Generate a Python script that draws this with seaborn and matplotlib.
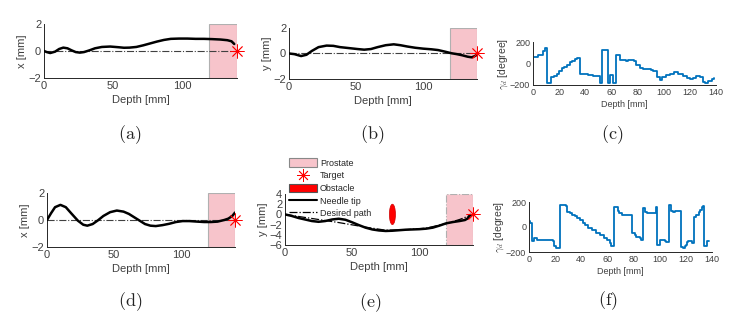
import numpy as np
import pandas as pd
import matplotlib
matplotlib.use("Agg")
import matplotlib.pyplot as plt
import seaborn as sns
from matplotlib.patches import Patch, Ellipse, Rectangle
from matplotlib.lines import Line2D

# ---------------- data ----------------
# (a) needle tip x vs depth
a_depth = [0, 2, 4.5, 8, 11, 14, 17, 20, 23, 26, 29, 33, 37, 42, 48, 54, 58, 62, 67, 72, 77, 82, 87, 92, 98, 104, 110, 116, 122, 128, 133, 136, 138]
a_x     = [0, -0.08, -0.15, -0.05, 0.15, 0.25, 0.2, 0.05, -0.08, -0.12, -0.08, 0.05, 0.2, 0.3, 0.33, 0.28, 0.24, 0.25, 0.3, 0.42, 0.56, 0.7, 0.82, 0.9, 0.92, 0.92, 0.9, 0.9, 0.88, 0.85, 0.8, 0.72, 0.52]
# (b) needle tip y vs depth
b_depth = [0, 4, 9, 13, 17, 22, 28, 33, 38, 45, 51, 56, 61, 66, 72, 78, 83, 88, 94, 100, 106, 111, 116, 121, 125, 129, 133, 136, 138, 140]
b_y     = [0, -0.05, -0.2, -0.1, 0.2, 0.5, 0.62, 0.6, 0.5, 0.42, 0.35, 0.3, 0.35, 0.5, 0.65, 0.72, 0.65, 0.55, 0.45, 0.38, 0.33, 0.27, 0.15, 0.02, -0.05, -0.14, -0.25, -0.3, -0.22, -0.1]
# (d) needle tip x vs depth
d_depth = [0, 3, 6, 10, 14, 18, 23, 27, 30, 34, 38, 42, 47, 52, 57, 61, 65, 69, 73, 77, 81, 86, 91, 96, 101, 106, 112, 117, 122, 127, 132, 135, 138, 140]
d_x     = [0, 0.5, 0.95, 1.12, 0.95, 0.5, -0.05, -0.35, -0.42, -0.3, -0.02, 0.3, 0.58, 0.7, 0.62, 0.45, 0.2, -0.05, -0.3, -0.42, -0.45, -0.38, -0.28, -0.15, -0.08, -0.08, -0.12, -0.15, -0.15, -0.12, 0.0, 0.1, 0.3, 0.55]
# (e) needle tip and desired path y vs depth
e_depth = [0, 5, 10, 15, 20, 25, 30, 35, 40, 45, 50, 55, 60, 65, 70, 75, 80, 85, 90, 95, 100, 105, 110, 115, 120, 125, 130, 134, 136, 138]
e_y     = [0, -0.3, -0.7, -1.0, -1.3, -1.45, -1.3, -1.0, -0.85, -1.05, -1.55, -2.1, -2.6, -2.95, -3.15, -3.25, -3.2, -3.1, -3.0, -2.95, -2.9, -2.8, -2.6, -2.2, -1.75, -1.5, -1.3, -1.1, -0.8, -0.1]
e_des_depth = [0, 20, 40, 60, 75, 90, 105, 120, 130, 140]
e_des_y     = [0, -0.8, -1.6, -2.5, -3.1, -3.0, -2.7, -1.8, -1.0, 0]
# (c) steering angle gamma_d (steps)
c_depth = [0, 0, 4, 8, 9, 11, 14, 16, 18, 20, 22, 24, 26, 28, 30, 32, 34, 36, 42, 46, 51, 52.7, 57.3, 59, 61, 63.4, 66.7, 71, 73, 77, 79, 82, 84, 90, 92, 95, 97, 98.5, 102, 105, 108, 111, 115, 117.5, 120, 122.6, 125, 127.7, 129.8, 131.5, 134, 136.6, 138.4]
c_gam   = [0, 65, 80, 120, 140, -180, -130, -120, -100, -70, -45, -30, -10, 10, 25, 40, 55, -95, -105, -115, -180, 125, -180, -110, -180, 75, 34, 19, 34, 19, -12, -44, -50, -60, -69, -122, -150, -122, -106, -94, -81, -100, -112, -131, -147, -137, -119, -125, -169, -184, -165, -144, -135]
# (f) steering angle gamma_d (steps)
f_depth = [0, 1, 2, 4, 6, 8, 18, 19, 21, 24, 28, 29, 31, 33, 35, 37, 39, 41, 43, 45, 48, 51, 54, 57, 60, 62, 63, 65, 68, 69, 71, 79, 81, 82, 85, 86, 87, 89, 90, 97, 98, 100, 104, 105, 107, 109, 110, 112, 114, 116, 118, 119, 120, 121, 122, 124, 125, 126, 128, 130, 131, 132, 133, 134, 136.5, 137.5]
f_gam   = [45, 35, -110, -90, -100, -100, -110, -150, -170, 180, 170, 120, 110, 100, 85, 70, 55, 35, 15, -5, -25, -45, -65, -85, -105, -130, -150, 160, 125, 110, 100, -50, -60, -80, -90, -100, 150, 120, 115, 160, -140, -100, -110, -120, 180, 130, 120, 130, 130, -160, -170, -150, -140, -120, -110, -110, -130, 80, 100, 120, 140, 160, 170, -150, -110, -110]

prostate_range = [120, 140]
target = [140, 0]
obstacle = [80, 0, 4.5, 4.0]  # x, y, width, height
legend_labels = ["Prostate", "Target", "Obstacle", "Needle tip", "Desired path"]
captions = ["(a)", "(b)", "(c)", "(d)", "(e)", "(f)"]

# ---------------- style ----------------
sns.set_theme(style="white")
plt.rcParams["font.family"] = ["Liberation Sans", "DejaVu Sans"]
plt.rcParams["mathtext.fontset"] = "cm"

W, H = 734, 323
fig = plt.figure(figsize=(W / 100, H / 100), dpi=100)

def box(l, r, t, b):
    return [l / W, 1 - b / H, (r - l) / W, (b - t) / H]

pos = {
    "a": box(44, 237, 24, 78),
    "b": box(289, 477, 28, 79),
    "c": box(533, 716, 42, 85),
    "d": box(47, 235, 193, 247),
    "e": box(285, 473, 194, 245),
    "f": box(529, 712, 202, 252),
}

PINK = "#f7c4cb"
BLUE = "#0072BD"
TXT = "#404040"
STAR = (8, 2, 0)

def style_ax(ax, fs):
    for s in ["top", "right"]:
        ax.spines[s].set_visible(False)
    for s in ["left", "bottom"]:
        ax.spines[s].set_color("#262626")
        ax.spines[s].set_linewidth(0.7)
    ax.tick_params(direction="in", length=2, width=0.6, labelsize=fs, colors="#262626", labelcolor=TXT, pad=2)
    ax.set_facecolor("white")

def traj_panel(ax, depth, vals, ylab, ylim, yticks, desired=None, dashed_prostate=False):
    ax.add_patch(Rectangle((prostate_range[0], ylim[0]), prostate_range[1] - prostate_range[0],
                           ylim[1] - ylim[0], facecolor=PINK, edgecolor="#b0b0b0", lw=0.8,
                           ls="-." if dashed_prostate else "-", zorder=1))
    if desired is None:
        sns.lineplot(x=[0, 140], y=[0, 0], ax=ax, color="#404040", lw=0.8, ls="-.", zorder=2)
    else:
        sns.lineplot(x=desired[0], y=desired[1], ax=ax, color="black", lw=0.9, ls="-.", sort=False, estimator=None, zorder=2)
    sns.lineplot(x=depth, y=vals, ax=ax, color="black", lw=1.8, sort=False, estimator=None, zorder=3)
    ax.plot([target[0]], [target[1]], marker=STAR, color="red", ms=10, mew=0.6, zorder=5, clip_on=False)
    ax.set_xlim(0, 140)
    ax.set_ylim(*ylim)
    ax.set_xticks([0, 50, 100])
    ax.set_yticks(yticks)
    style_ax(ax, 8)
    ax.set_xlabel("Depth [mm]", fontsize=8, color=TXT, labelpad=3)
    ax.set_ylabel(ylab, fontsize=8, color=TXT, labelpad=1)

def gamma_panel(ax, depth, vals):
    sns.lineplot(x=depth, y=vals, ax=ax, color=BLUE, lw=1.3, sort=False, estimator=None, drawstyle="steps-post")
    ax.set_xlim(0, 140)
    ax.set_ylim(-200, 200)
    ax.set_xticks(list(range(0, 141, 20)))
    ax.set_yticks([-200, 0, 200])
    style_ax(ax, 6.5)
    ax.set_xlabel("Depth [mm]", fontsize=6.5, color=TXT, labelpad=2)
    ax.set_ylabel(r"$\gamma_d$ [degree]", fontsize=7.5, color=TXT, labelpad=0)

ax_a = fig.add_axes(pos["a"])
traj_panel(ax_a, a_depth, a_x, "x [mm]", (-2, 2), [-2, 0, 2])
ax_b = fig.add_axes(pos["b"])
traj_panel(ax_b, b_depth, b_y, "y [mm]", (-2, 2), [-2, 0, 2])
ax_c = fig.add_axes(pos["c"])
gamma_panel(ax_c, c_depth, c_gam)
ax_d = fig.add_axes(pos["d"])
traj_panel(ax_d, d_depth, d_x, "x [mm]", (-2, 2), [-2, 0, 2])
ax_e = fig.add_axes(pos["e"])
traj_panel(ax_e, e_depth, e_y, "y [mm]", (-6, 4), [-6, -4, -2, 0, 2, 4],
           desired=(e_des_depth, e_des_y), dashed_prostate=True)
ax_e.add_patch(Ellipse((obstacle[0], obstacle[1]), obstacle[2], obstacle[3], facecolor="red", edgecolor="#cc0000", lw=0.5, zorder=4))
ax_f = fig.add_axes(pos["f"])
gamma_panel(ax_f, f_depth, f_gam)

# legend for (e)
handles = [
    Patch(facecolor=PINK, edgecolor="#888888", lw=0.8),
    Line2D([], [], ls="none", marker=STAR, color="red", ms=9, mew=0.6),
    Patch(facecolor="red", edgecolor="#555555", lw=0.8),
    Line2D([], [], color="black", lw=1.5),
    Line2D([], [], color="black", lw=0.9, ls="-."),
]
fig.legend(handles, legend_labels, loc="upper left", bbox_to_anchor=(284 / W, 1 - 153 / H),
           frameon=False, fontsize=6.5, handlelength=3.0, handleheight=1.1, handletextpad=0.4,
           labelspacing=0.35, borderpad=0.1, labelcolor="#262626")

# captions
cap_pos = [(130, 135), (372, 135), (612, 135), (130, 302), (370, 303), (608, 301)]
for c, (x, y) in zip(captions, cap_pos):
    fig.text(x / W, 1 - y / H, r"$\mathrm{" + c + "}$", fontsize=13, ha="center", va="center", color="#222222")

fig.savefig("out.png", dpi=100)
